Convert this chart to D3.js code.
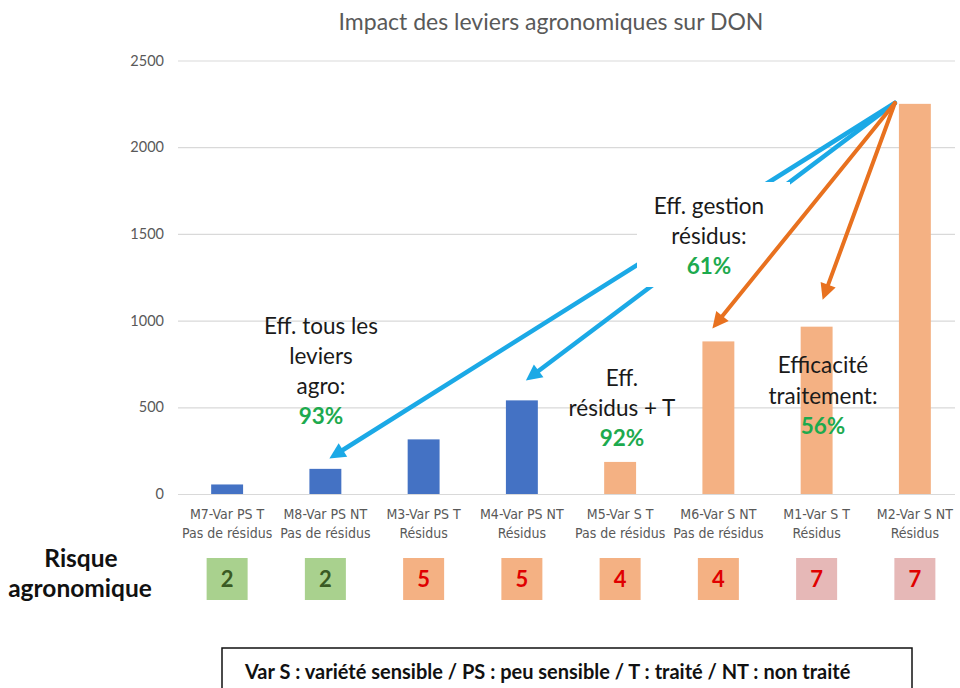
<!DOCTYPE html>
<html><head><meta charset="utf-8">
<script src="https://cdn.jsdelivr.net/npm/d3@7"></script>
<style>
html,body{margin:0;padding:0;background:#fff;}
svg{display:block;}
</style></head>
<body>
<svg id="chart" width="960" height="688"></svg>
<script>
// ---- data ----
const categories = ["M7", "M8", "M3", "M4", "M5", "M6", "M1", "M2"];
const labelLine1 = ["M7-Var PS T", "M8-Var PS NT", "M3-Var PS T", "M4-Var PS NT", "M5-Var S T", "M6-Var S NT", "M1-Var S T", "M2-Var S NT"];
const labelLine2 = ["Pas de résidus", "Pas de résidus", "Résidus", "Résidus", "Pas de résidus", "Pas de résidus", "Résidus", "Résidus"];
const donValues = [55, 145, 315, 540, 185, 880, 965, 2250];
const variety = ["PS", "PS", "PS", "PS", "S", "S", "S", "S"];
const riskScores = [2, 2, 5, 5, 4, 4, 7, 7];
const yTicks = [0, 500, 1000, 1500, 2000, 2500];
const title = "Impact des leviers agronomiques sur DON";
const riskLabel = ["Risque", "agronomique"];
const legendText = "Var S : variété sensible / PS : peu sensible / T : traité / NT : non traité";
// arrows: from top of M2 to target category at a value level
const arrowFrom = {cat: "M2", val: 2255};
const blueArrows = [{cat: "M8", val: 205}, {cat: "M4", val: 655}];
const orangeArrows = [{cat: "M6", val: 955}, {cat: "M1", val: 1120}];
// annotations: [lines..., percentage]
const annotTous = ["Eff. tous les", "leviers", "agro:", "93%"];
const annotGestion = ["Eff. gestion", "résidus:", "61%"];
const annotResidusT = ["Eff.", "résidus + T", "92%"];
const annotTraitement = ["Efficacité", "traitement:", "56%"];

// ---- layout ----
const svg = d3.select("#chart");
const x = d3.scaleBand().domain(categories).range([178, 964]).paddingInner(0.675).paddingOuter(0.3375);
const y = d3.scaleLinear().domain([0, 2500]).range([494, 60.5]);
const cx = c => x(c) + x.bandwidth() / 2;
const FONT = "Lato, 'Open Sans', sans-serif";
const NARROW = "'Liberation Sans Narrow', 'DejaVu Sans Condensed', sans-serif";
const colBar = {PS: "#4472C4", S: "#F4B183"};
const BLUE = "#1BA9E6", ORANGE = "#E8711F", GREEN = "#1DAA4E";

// title
svg.append("text").attr("x", 551).attr("y", 30).attr("text-anchor", "middle")
  .attr("font-family", FONT).attr("font-size", 23).attr("fill", "#595959").text(title);

// gridlines + y axis
const yAxis = d3.axisLeft(y).tickValues(yTicks).tickFormat(d3.format("d")).tickSize(-(955 - 178)).tickPadding(14);
const gy = svg.append("g").attr("transform", "translate(178,0)").call(yAxis);
gy.select(".domain").remove();
gy.selectAll(".tick line").attr("stroke", "#D9D9D9").attr("stroke-width", 1.2);
gy.selectAll(".tick text").attr("font-family", FONT).attr("font-size", 14.5).attr("fill", "#595959");

// bars
svg.append("g").selectAll("rect").data(categories).join("rect")
  .attr("x", d => x(d)).attr("width", x.bandwidth())
  .attr("y", (d, i) => y(donValues[i])).attr("height", (d, i) => y(0) - y(donValues[i]))
  .attr("fill", (d, i) => colBar[variety[i]]);

// x labels
const xl = svg.append("g");
categories.forEach((c, i) => {
  const t = xl.append("text").attr("x", cx(c)).attr("text-anchor", "middle")
    .attr("font-family", NARROW).attr("font-size", 14).attr("fill", "#595959");
  t.append("tspan").attr("x", cx(c)).attr("y", 519).text(labelLine1[i]);
  t.append("tspan").attr("x", cx(c)).attr("y", 538).text(labelLine2[i]);
});

// arrows
function arrow(g, from, to, color, w) {
  const x1 = cx(from.cat) - 20, y1 = y(from.val);
  const x2 = cx(to.cat) + (to.cat === "M6" ? -6 : (to.cat === "M1" ? 6 : 4)), y2 = y(to.val);
  const ang = Math.atan2(y2 - y1, x2 - x1);
  const L = 16, H = 8;
  const bx = x2 - L * Math.cos(ang), by = y2 - L * Math.sin(ang);
  g.append("line").attr("x1", x1).attr("y1", y1).attr("x2", bx + 2 * Math.cos(ang)).attr("y2", by + 2 * Math.sin(ang))
    .attr("stroke", color).attr("stroke-width", w).attr("stroke-linecap", "round");
  const px = -Math.sin(ang), py = Math.cos(ang);
  g.append("path").attr("d", `M${x2},${y2}L${bx + H * px},${by + H * py}L${bx - H * px},${by - H * py}Z`).attr("fill", color);
}
const ga = svg.append("g");
blueArrows.forEach(t => arrow(ga, arrowFrom, t, BLUE, 4.5));
// white text box hiding blue lines behind annotation
ga.append("rect").attr("x", 637).attr("y", 182).attr("width", 153).attr("height", 105).attr("fill", "#fff");
orangeArrows.forEach(t => arrow(ga, arrowFrom, t, ORANGE, 4));

// annotations
function annot(lines, xc, y0, dy) {
  const t = svg.append("text").attr("text-anchor", "middle").attr("font-family", FONT).attr("font-size", 22.5);
  lines.forEach((s, i) => {
    const last = i === lines.length - 1;
    t.append("tspan").attr("x", xc).attr("y", y0 + i * dy).text(s)
      .attr("fill", last ? GREEN : "#1a1a1a").attr("font-weight", last ? "bold" : "normal");
  });
}
annot(annotTous, 321, 334, 30);
annot(annotGestion, 709, 214, 30);
annot(annotResidusT, 622, 386, 30);
annot(annotTraitement, 823, 373, 30.5);

// risk row
const riskFill = r => r <= 2 ? "#A9D18E" : (r <= 5 ? "#F4B183" : "#E6B8B7");
const riskText = r => r <= 2 ? "#3A5A24" : "#E00000";
const gr = svg.append("g");
categories.forEach((c, i) => {
  gr.append("rect").attr("x", cx(c) - 20.5).attr("y", 558).attr("width", 41).attr("height", 42).attr("fill", riskFill(riskScores[i]));
  gr.append("text").attr("x", cx(c)).attr("y", 587).attr("text-anchor", "middle")
    .attr("font-family", FONT).attr("font-weight", "bold").attr("font-size", 22)
    .attr("fill", riskText(riskScores[i])).text(riskScores[i]);
});
svg.append("text").attr("x", 81).attr("y", 567).attr("text-anchor", "middle").attr("font-family", FONT)
  .attr("font-weight", "bold").attr("font-size", 24.5).attr("fill", "#111").text(riskLabel[0]);
svg.append("text").attr("x", 80).attr("y", 597).attr("text-anchor", "middle").attr("font-family", FONT)
  .attr("font-weight", "bold").attr("font-size", 24.5).attr("fill", "#111").text(riskLabel[1]);

// legend box
svg.append("rect").attr("x", 222).attr("y", 648).attr("width", 690).attr("height", 60)
  .attr("fill", "#fff").attr("stroke", "#111").attr("stroke-width", 1.5);
svg.append("text").attr("x", 245).attr("y", 679).attr("font-family", FONT).attr("font-weight", "bold")
  .attr("font-size", 20).attr("fill", "#111").text(legendText);
</script>
</body></html>
